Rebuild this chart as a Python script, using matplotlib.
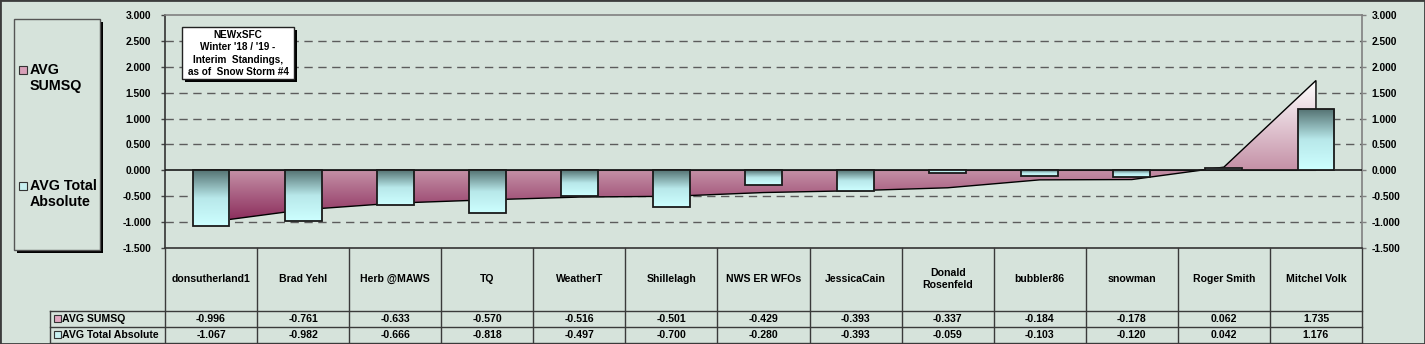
import numpy as np
import matplotlib
matplotlib.use("Agg")
import matplotlib.pyplot as plt
from matplotlib.patches import Rectangle, Polygon
from matplotlib.lines import Line2D
from matplotlib.colors import LinearSegmentedColormap

plt.rcParams['font.family'] = ['Liberation Sans', 'DejaVu Sans']
plt.rcParams['font.weight'] = 'bold'

categories = ["donsutherland1", "Brad Yehl", "Herb @MAWS", "TQ", "WeatherT", "Shillelagh",
              "NWS ER WFOs", "JessicaCain", "Donald\nRosenfeld", "bubbler86", "snowman",
              "Roger Smith", "Mitchel Volk"]
avg_sumsq = [-0.996, -0.761, -0.633, -0.570, -0.516, -0.501, -0.429, -0.393, -0.337,
             -0.184, -0.178, 0.062, 1.735]
avg_total_abs = [-1.067, -0.982, -0.666, -0.818, -0.497, -0.700, -0.280, -0.393, -0.059,
                 -0.103, -0.120, 0.042, 1.176]
series_names = ["AVG SUMSQ", "AVG Total Absolute"]
yticks = [-1.5, -1.0, -0.5, 0.0, 0.5, 1.0, 1.5, 2.0, 2.5, 3.0]
title_lines = ["NEWxSFC", "Winter '18 / '19 -", "Interim  Standings,", "as of  Snow Storm #4"]

W, H = 1425, 344
BG = '#d6e3db'
fig = plt.figure(figsize=(W / 100, H / 100), dpi=100, facecolor=BG)


def X(px):
    return px / W


def Y(py):
    return 1 - py / H


L, R, T, B = 165, 1362, 15, 248
ax = fig.add_axes([X(L), Y(B), X(R) - X(L), Y(T) - Y(B)])
ax.set_facecolor('none')
n = len(categories)
xs = np.arange(n)
ax.set_xlim(-0.5, n - 0.5)
ax.set_ylim(-1.5, 3.0)

# gridlines
for yv in yticks:
    if yv in (-1.5, 0.0, 3.0):
        continue
    ax.axhline(yv, color='#5c5c5c', lw=1.0, ls=(0, (6, 4)), zorder=1)

# area series with vertical gradient
sumsq = np.array(avg_sumsq)
ymin, ymax = sumsq.min(), sumsq.max()
verts = [(xs[0], 0)] + list(zip(xs, sumsq)) + [(xs[-1], 0)]
poly = Polygon(verts, closed=True, facecolor='none', edgecolor='black', lw=1.0, zorder=3)
ax.add_patch(poly)
area_cmap = LinearSegmentedColormap.from_list(
    'area', [(0.0, '#8a2a5a'), ((0 - ymin) / (ymax - ymin), '#c490a6'),
             (1.0, '#ffffff')])
grad = np.linspace(0, 1, 256).reshape(-1, 1)
im = ax.imshow(grad, cmap=area_cmap, extent=[xs[0], xs[-1], ymin, ymax],
               origin='lower', aspect='auto', zorder=2, interpolation='bilinear')
im.set_clip_path(poly)

# bars with gradient
bar_cmap = LinearSegmentedColormap.from_list('bar', ['#cdffff', '#b8e8ea', '#557373'])
bw = 0.4
for x, v in zip(xs, avg_total_abs):
    lo, hi = min(0, v), max(0, v)
    rect = Rectangle((x - bw / 2, lo), bw, hi - lo, facecolor='none',
                     edgecolor='#1a1a1a', lw=1.3, zorder=5)
    ax.add_patch(rect)
    bi = ax.imshow(grad, cmap=bar_cmap, extent=[x - bw / 2, x + bw / 2, lo, hi],
                   origin='lower', aspect='auto', zorder=4, interpolation='bilinear')
    bi.set_clip_path(rect)

ax.set_xlim(-0.5, n - 0.5)
ax.set_ylim(-1.5, 3.0)
ax.axhline(0, color='#1a1a1a', lw=1.2, zorder=3.5)

ax.set_xticks([])
ax.set_yticks(yticks)
ax.set_yticklabels([f"{v:.3f}" for v in yticks], fontsize=7.4, fontweight='bold')
ax.tick_params(axis='y', direction='out', length=3, width=1, color='#444444', pad=7)
for s in ('left', 'bottom'):
    ax.spines[s].set_color('#333333')
for s in ('top', 'right'):
    ax.spines[s].set_color('#808080')
for s in ax.spines.values():
    s.set_linewidth(1.2)

ax2 = ax.twinx()
ax2.set_ylim(-1.5, 3.0)
ax2.set_yticks(yticks)
ax2.set_yticklabels([f"{v:.3f}" for v in yticks], fontsize=7.4, fontweight='bold')
ax2.tick_params(axis='y', direction='out', length=3, width=1, color='#808080', pad=4)
for s in ax2.spines.values():
    s.set_visible(False)

# data table
tc = '#3a3a3a'
row1, row2, row3 = 311, 327, 343
colw = (R - L) / n
for i in range(n + 1):
    xx = L + colw * i
    fig.add_artist(Line2D([X(xx), X(xx)], [Y(B), Y(row3)], color=tc, lw=1.0))
for yy in (row1, row2, row3):
    fig.add_artist(Line2D([X(50), X(R)], [Y(yy), Y(yy)], color=tc, lw=1.0))
fig.add_artist(Line2D([X(50), X(50)], [Y(row1), Y(row3)], color=tc, lw=1.0))
for i, cat in enumerate(categories):
    cx = L + colw * (i + 0.5)
    fig.text(X(cx), Y(279), cat, ha='center', va='center', fontsize=7.6,
             fontweight='bold', linespacing=1.15)
    fig.text(X(cx), Y((row1 + row2) / 2), f"{avg_sumsq[i]:.3f}", ha='center',
             va='center', fontsize=7.6, fontweight='bold')
    fig.text(X(cx), Y((row2 + row3) / 2), f"{avg_total_abs[i]:.3f}", ha='center',
             va='center', fontsize=7.6, fontweight='bold')

marker_cols = ['#e0a8c0', '#c8f0f0']
for j, (yy, name) in enumerate(zip(((row1 + row2) / 2, (row2 + row3) / 2), series_names)):
    fig.add_artist(Rectangle((X(54), Y(yy + 3)), X(7), 7 / H, facecolor=marker_cols[j],
                             edgecolor='#333333', lw=0.8))
    fig.text(X(62), Y(yy), name, ha='left', va='center', fontsize=7.6, fontweight='bold')

# legend box
fig.add_artist(Rectangle((X(17), Y(253)), X(86), 231 / H, facecolor='black',
                         edgecolor='none', zorder=1))
fig.add_artist(Rectangle((X(14), Y(250)), X(86), 231 / H, facecolor=BG,
                         edgecolor='#555555', lw=1.0, zorder=2))
fig.add_artist(Rectangle((X(19), Y(74)), X(8), 8 / H, facecolor='#d8a0b8',
                         edgecolor='#333333', lw=0.8, zorder=3))
fig.text(X(30), Y(70), "AVG", ha='left', va='center', fontsize=10.3, fontweight='bold', zorder=3)
fig.text(X(30), Y(86), "SUMSQ", ha='left', va='center', fontsize=10.3, fontweight='bold', zorder=3)
fig.add_artist(Rectangle((X(19), Y(190)), X(8), 8 / H, facecolor='#c8f0f0',
                         edgecolor='#333333', lw=0.8, zorder=3))
fig.text(X(30), Y(186), "AVG Total", ha='left', va='center', fontsize=10.3, fontweight='bold', zorder=3)
fig.text(X(30), Y(202), "Absolute", ha='left', va='center', fontsize=10.3, fontweight='bold', zorder=3)

# title box
fig.add_artist(Rectangle((X(185), Y(82)), X(112), 52 / H, facecolor='black',
                         edgecolor='none', zorder=6))
fig.add_artist(Rectangle((X(182), Y(79)), X(112), 52 / H, facecolor='white',
                         edgecolor='#222222', lw=1.0, zorder=7))
for k, line in enumerate(title_lines):
    fig.text(X(238), Y(35 + 12.3 * k), line, ha='center', va='center', fontsize=7.2,
             fontweight='bold', zorder=8)

# outer frame
fig.add_artist(Rectangle((0, 0), 1, 1, facecolor='none', edgecolor='#3c3c3c', lw=2.0,
                         transform=fig.transFigure))

fig.savefig('out.png', dpi=100, facecolor=BG)
